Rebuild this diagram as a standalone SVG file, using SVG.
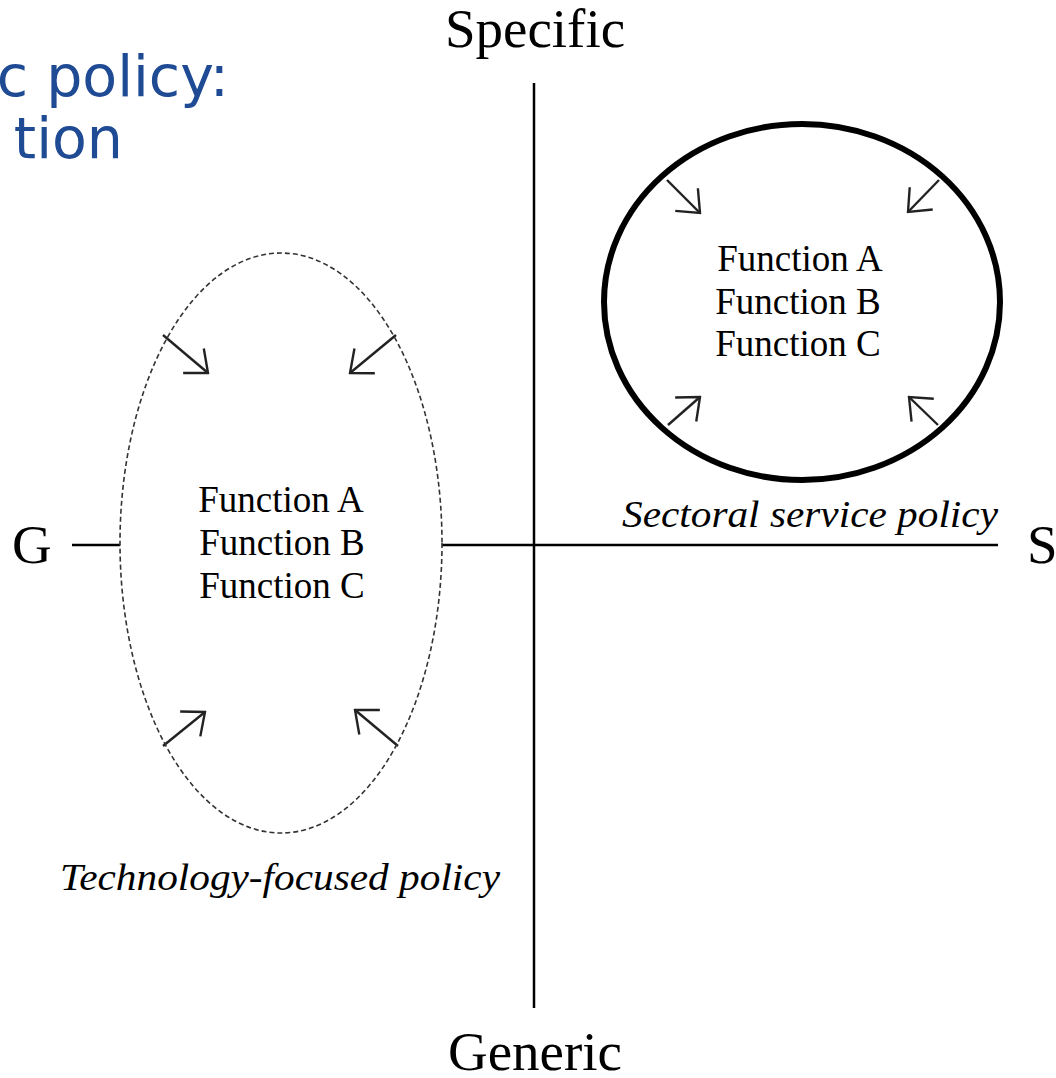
<svg xmlns="http://www.w3.org/2000/svg" width="1056" height="1078" viewBox="0 0 1056 1078">
<defs>
<style>
.ax{stroke:#000;stroke-width:2.5;fill:none}
.lbl{font-family:"Liberation Serif","Times New Roman",serif;font-size:55px;fill:#000}
.fn{font-family:"Liberation Serif","Times New Roman",serif;font-size:37px;fill:#000;text-anchor:middle}
.cap{font-family:"Liberation Serif","Times New Roman",serif;font-style:italic;font-size:38px;fill:#000}
.title{font-family:"DejaVu Sans","Verdana",sans-serif;font-size:57px;fill:#1F4A94;text-anchor:end}
.arr{stroke:#222;stroke-width:2.4;fill:none;marker-end:url(#ah)}
</style>
<marker id="ah" viewBox="0 0 24 36" refX="22" refY="18" markerWidth="24" markerHeight="36" markerUnits="userSpaceOnUse" orient="auto">
<path d="M3,2 L22,18 L3,34" fill="none" stroke="#222" stroke-width="2.4"/>
</marker>
</defs>
<rect width="1056" height="1078" fill="#fff"/>
<text class="title" x="229" y="96">c policy:</text>
<text class="title" x="123" y="158">tion</text>
<g id="connectors">
<line class="ax" x1="72" y1="545" x2="120" y2="545"/>
<line class="ax" x1="442" y1="545" x2="998" y2="545"/>
<line class="ax" x1="534" y1="83" x2="534" y2="1008"/>
<line class="arr" x1="667" y1="180" x2="700" y2="213"/>
<line class="arr" x1="939" y1="180" x2="908" y2="212"/>
<line class="arr" x1="668" y1="425" x2="700" y2="397"/>
<line class="arr" x1="938" y1="425" x2="909" y2="397"/>
<line class="arr" x1="163" y1="335" x2="208" y2="373"/>
<line class="arr" x1="396" y1="335" x2="350" y2="373"/>
<line class="arr" x1="163" y1="746" x2="205" y2="712"/>
<line class="arr" x1="398" y1="746" x2="355" y2="710"/>
</g>
<g id="axis-labels">
<text class="lbl" x="535" y="47" text-anchor="middle">Specific</text>
<text class="lbl" x="535" y="1070" text-anchor="middle">Generic</text>
<text class="lbl" x="12" y="563">G</text>
<text class="lbl" x="1027" y="563">S</text>
</g>
<g id="technology-focused">
<ellipse cx="281" cy="543" rx="161" ry="290" fill="none" stroke="#333" stroke-width="1.6" stroke-dasharray="5 3"/>
<text class="fn" x="281" y="512">Function A</text>
<text class="fn" x="282" y="555">Function B</text>
<text class="fn" x="282" y="598">Function C</text>
<text class="cap" x="60" y="890" textLength="440" lengthAdjust="spacingAndGlyphs">Technology-focused policy</text>
</g>
<g id="sectoral-service">
<ellipse cx="802" cy="302" rx="198" ry="178" fill="none" stroke="#000" stroke-width="6"/>
<text class="fn" x="800" y="271">Function A</text>
<text class="fn" x="798" y="314">Function B</text>
<text class="fn" x="798" y="356">Function C</text>
<text class="cap" x="622" y="527" textLength="376" lengthAdjust="spacingAndGlyphs">Sectoral service policy</text>
</g>
</svg>
